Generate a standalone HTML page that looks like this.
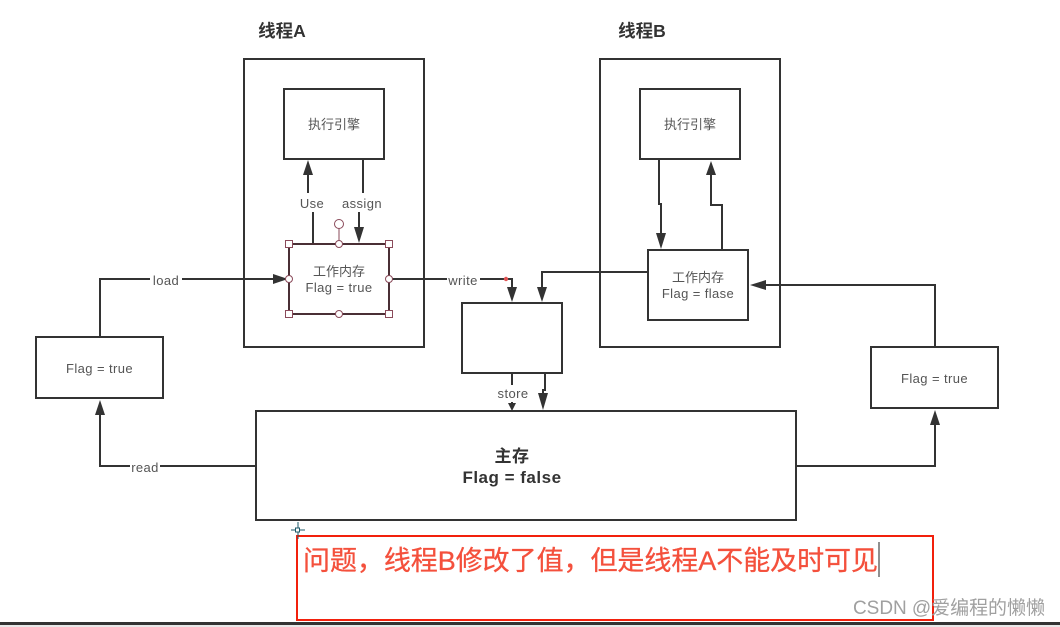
<!DOCTYPE html>
<html><head><meta charset="utf-8"><style>
html,body{margin:0;padding:0;background:#fff;width:1060px;height:627px;overflow:hidden}
svg{display:block}
text{font-family:"Liberation Sans","Noto Sans CJK SC",sans-serif;fill:#555;font-size:13px;text-anchor:middle}
.f{letter-spacing:.4px}
.b{fill:none;stroke:#333;stroke-width:2}
.h{fill:#fff;stroke:#8a4a5a;stroke-width:1}
.t{font-size:17.500px;font-weight:bold;fill:#333}
.m{font-size:17px;font-weight:bold;fill:#333;letter-spacing:.5px}
</style></head><body>
<svg width="1060" height="627" viewBox="0 0 1060 627" xmlns="http://www.w3.org/2000/svg">
<rect width="1060" height="627" fill="#fff"/>
<text class="t" x="282" y="37">线程A</text>
<text class="t" x="642" y="37">线程B</text>
<rect class="b" x="244" y="59" width="180" height="288"/>
<rect class="b" x="600" y="59" width="180" height="288"/>
<rect class="b" x="284" y="89" width="100" height="70"/>
<rect class="b" x="640" y="89" width="100" height="70"/>
<rect class="b" x="648" y="250" width="100" height="70"/>
<rect class="b" x="36" y="337" width="127" height="61"/>
<rect class="b" x="871" y="347" width="127" height="61"/>
<rect class="b" x="462" y="303" width="100" height="70"/>
<rect class="b" x="256" y="411" width="540" height="109"/>
<path class="b" d="M308 175V193M313 212V244M363 159V193M359 212V228"/>
<path class="b" d="M100 337V279H150M182 279H275"/>
<path class="b" d="M390 279H447M480 279H512V288"/>
<path class="b" d="M648 272H542V288"/>
<path class="b" d="M512 373V385M512 402V404M545 373V390H543V394"/>
<path class="b" d="M659 159V204H661V234"/>
<path class="b" d="M722 250V205H711V175"/>
<path class="b" d="M766 285H935V347"/>
<path class="b" d="M796 466H935V425"/>
<path class="b" d="M256 466H160M130 466H100V415"/>
<g fill="#333">
<path d="M303 175L308 160L313 175Z"/>
<path d="M354 227L359 243L364 227Z"/>
<path d="M273 274L288 279L273 284Z"/>
<path d="M507 287L512 302L517 287Z"/>
<path d="M537 287L542 302L547 287Z"/>
<path d="M508 403L512 411L516 403Z"/>
<path d="M538 393L543 410L548 393Z"/>
<path d="M656 233L661 249L666 233Z"/>
<path d="M706 175L711 161L716 175Z"/>
<path d="M766 280L750 285L766 290Z"/>
<path d="M930 425L935 410L940 425Z"/>
<path d="M95 415L100 400L105 415Z"/>
</g>
<rect x="289" y="244" width="100" height="70" fill="none" stroke="#4a2f35" stroke-width="2"/>
<path d="M339 244V228" stroke="#8a4a5a" stroke-width="1" fill="none"/>
<circle class="h" cx="339" cy="224" r="4.500"/>
<rect class="h" x="285.500" y="240.500" width="7" height="7"/>
<rect class="h" x="385.500" y="240.500" width="7" height="7"/>
<rect class="h" x="285.500" y="310.500" width="7" height="7"/>
<rect class="h" x="385.500" y="310.500" width="7" height="7"/>
<circle class="h" cx="339" cy="244" r="3.500"/>
<circle class="h" cx="339" cy="314" r="3.500"/>
<circle class="h" cx="289" cy="279" r="3.500"/>
<circle class="h" cx="389" cy="279" r="3.500"/>
<circle cx="506" cy="279" r="2.200" fill="#e05555"/>
<text x="334" y="129">执行引擎</text>
<text x="690" y="129">执行引擎</text>
<text x="339" y="276">工作内存</text>
<text class="f" x="339" y="292">Flag = true</text>
<text x="698" y="282">工作内存</text>
<text class="f" x="698" y="298">Flag = flase</text>
<text class="f" x="99.500" y="373">Flag = true</text>
<text class="f" x="934.500" y="383">Flag = true</text>
<text class="f" x="312" y="208">Use</text>
<text class="f" x="362" y="208">assign</text>
<text class="f" x="166" y="285">load</text>
<text class="f" x="463" y="285">write</text>
<text class="f" x="513" y="398">store</text>
<text class="f" x="145" y="472">read</text>
<text class="m" x="512" y="462">主存</text>
<text class="m" x="512" y="483">Flag = false</text>
<rect x="297" y="536" width="636" height="84" fill="none" stroke="#f2200c" stroke-width="2"/>
<text x="303" y="570" textLength="575" lengthAdjust="spacing" style="font-size:27px;fill:#f4503c;stroke:#f4503c;stroke-width:.3px;text-anchor:start">问题，线程B修改了值，但是线程A不能及时可见</text>
<path d="M879 542V577" stroke="#222" stroke-width="1"/>
<path d="M298 522V539M291 530H305" stroke="#1d5a6a" stroke-width="1"/>
<rect x="295.500" y="528" width="4" height="4" fill="#fff" stroke="#1d5a6a" stroke-width="1"/>
<rect x="0" y="622" width="1060" height="3" fill="#333"/>
<rect x="0" y="625" width="1060" height="2" fill="#e8e8e8"/>
<text x="853" y="614" textLength="192" lengthAdjust="spacing" style="font-size:19px;fill:#a0a0a0;text-anchor:start">CSDN @爱编程的懒懒</text>
</svg>
</body></html>
